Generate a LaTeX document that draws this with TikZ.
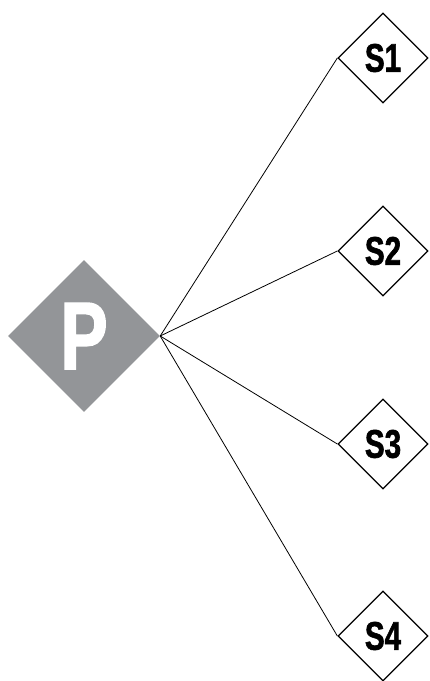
\documentclass[tikz,border=0pt]{standalone}
\usepackage{fontspec}
\setmainfont{Liberation Sans}
% heavy condensed lettering
\newfontfamily\heavycond[FakeStretch=0.74, FakeBold=1.5]{Liberation Sans Bold}
\usetikzlibrary{shapes.geometric}
\definecolor{pgray}{HTML}{939598}
\tikzset{
  x=1pt, y=1pt,
  hub/.style={diamond, aspect=1, inner sep=0pt, minimum width=152pt, minimum height=152pt,
    fill=pgray, text=white, font=\heavycond\fontsize{96}{96}\selectfont},
  sat/.style={diamond, aspect=1, inner sep=0pt, minimum width=90pt, minimum height=90pt,
    draw=black, line width=1.3pt, fill=white, font=\heavycond\fontsize{40}{40}\selectfont},
  link/.style={draw=black, line width=0.8pt}
}
\begin{document}
\begin{tikzpicture}
\useasboundingbox (0,0) rectangle (429,-681);
\node[hub] (p) at (84,-336) {P};
\node[sat] (s1) at (383,-58) {S1};
\node[sat] (s2) at (383,-251) {S2};
\node[sat] (s3) at (383,-444) {S3};
\node[sat] (s4) at (383,-636) {S4};
\foreach \s in {s1,s2,s3,s4}
  \draw[link] (p.east) -- (\s.west);
\end{tikzpicture}
\end{document}
